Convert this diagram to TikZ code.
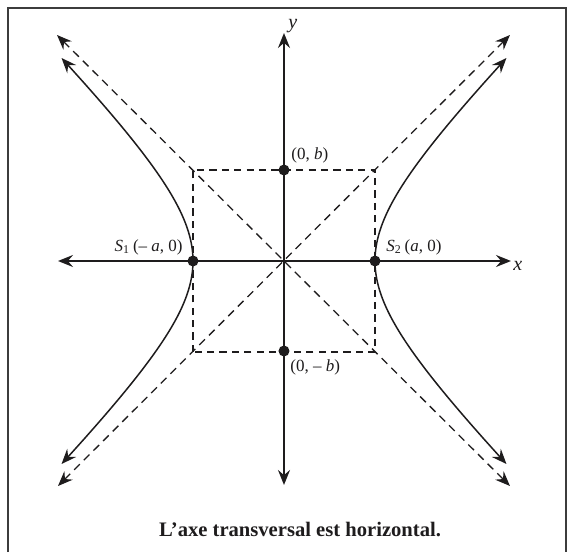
\documentclass[tikz,border=0pt]{standalone}
\usepackage{fontspec}
\setmainfont{Liberation Serif}
\usepackage{xcolor}
\usetikzlibrary{arrows.meta}
\definecolor{hypink}{HTML}{1E1C1D}
\definecolor{hypframe}{HTML}{3C3C3C}

\tikzset{
  hyptip/.tip={Stealth[length=7.5pt,width=6pt,inset=2.6pt]},
  axisline/.style={hypink, line width=1.1pt, hyptip-hyptip},
  branchline/.style={hypink, line width=0.75pt, hyptip-hyptip},
  asymline/.style={hypink, line width=0.65pt, dash pattern=on 4pt off 2.8pt, hyptip-hyptip},
  boxline/.style={hypink, line width=0.65pt, dash pattern=on 3.6pt off 2.6pt},
  vertex/.style={circle, fill=hypink, inner sep=0pt, minimum size=5.5pt},
  ptlabel/.style={text=hypink, inner sep=0pt, font=\fontsize{8.5}{10}\selectfont},
}

\begin{document}
\begin{tikzpicture}[x=0.5pt,y=0.5pt]
  \useasboundingbox (-284,-291) rectangle (289,261);
  \draw[hypframe, line width=0.75pt] (-276,-291) -- (-276,253) -- (282,253) -- (282,-291);

  \coordinate (xl) at (-226,0);
  \coordinate (xr) at (227,0);
  \coordinate (yb) at (0,-224);
  \coordinate (yt) at (0,228);
  \coordinate (dl) at (-226,-225);
  \coordinate (ur) at (226,226);
  \coordinate (ul) at (-227,226);
  \coordinate (dr) at (226,-225);

  \draw[boxline] (-91,-91) rectangle (91,91);
  \draw[asymline] (dl) -- (ur);
  \draw[asymline] (ul) -- (dr);

  \draw[branchline] plot[smooth, samples=81, domain=-203:203, variable=\t] ({91*sqrt(1+(\t/91)^2)},{\t});
  \draw[branchline] plot[smooth, samples=81, domain=-203:203, variable=\t] ({-91*sqrt(1+(\t/91)^2)},{\t});

  \draw[axisline] (xl) -- (xr);
  \draw[axisline] (yb) -- (yt);

  \node[vertex] (S1) at (-91,0) {};
  \node[vertex] (S2) at (91,0) {};
  \node[vertex] (B1) at (0,91) {};
  \node[vertex] (B2) at (0,-90) {};

  \node[ptlabel, anchor=east] (S1lab) at (-101,14) {\textit{S}\textsubscript{1}\,(– \textit{a}, 0)};
  \node[ptlabel, anchor=west] (S2lab) at (102,14) {\textit{S}\textsubscript{2}\,(\textit{a}, 0)};
  \node[ptlabel, anchor=west] (B1lab) at (7,106) {(0, \textit{b})};
  \node[ptlabel, anchor=west] (B2lab) at (6,-106) {(0, – \textit{b})};
  \node[ptlabel, anchor=west, font=\fontsize{10}{12}\selectfont\itshape] (xlab) at (229,-5) {x};
  \node[ptlabel, anchor=west, font=\fontsize{10}{12}\selectfont\itshape] (ylab) at (4,235) {y};

  \node[text=hypink, font=\bfseries\fontsize{10.3}{12}\selectfont] (caption) at (16,-268) {L’axe transversal est horizontal.};
\end{tikzpicture}
\end{document}
